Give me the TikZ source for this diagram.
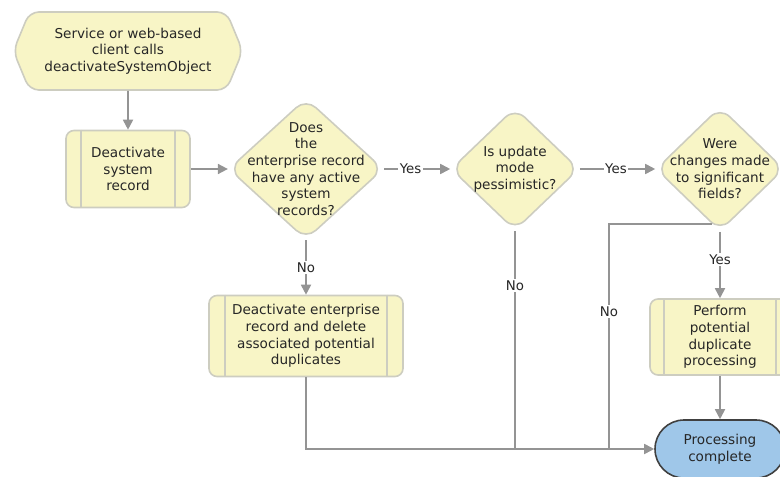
\documentclass[tikz,border=0pt]{standalone}
\usepackage{fontspec}
\setmainfont{DejaVu Sans}
\usetikzlibrary{shapes.geometric,shapes.symbols,shapes.misc,arrows.meta}
\definecolor{boxyellow}{HTML}{F8F5C6}
\definecolor{boxrim}{HTML}{CDCDC0}
\definecolor{linegray}{HTML}{949494}
\definecolor{doneblue}{HTML}{9FC7E9}
\tikzset{
  txt/.style={font=\fontsize{10.2}{12.5}\selectfont, align=center, text=black!85},
  procbox/.style={draw=boxrim, fill=boxyellow, line width=1.2pt, rounded corners=6pt, inner sep=0pt, txt},
  question/.style={draw=boxrim, fill=boxyellow, line width=1.2pt, diamond, rounded corners=10pt, inner sep=0pt},
  qlabel/.style={txt},
  flow/.style={draw=linegray, line width=1.3pt, -{Triangle[length=7.5pt,width=7.5pt]}},
  wire/.style={draw=linegray, line width=1.3pt},
  lbl/.style={fill=white, inner sep=1pt, text=black!85, font=\fontsize{10}{11}\selectfont},
}
\begin{document}
\begin{tikzpicture}[x=0.75pt, y=-0.75pt]
\useasboundingbox (0,0) rectangle (780,477);
\clip (0,0) rectangle (780,477);
\node[draw=boxrim, fill=boxyellow, line width=1.2pt, shape=signal, signal to=east and west, signal pointer angle=135, rounded corners=7pt, minimum width=172pt, minimum height=58.5pt, inner sep=0pt, txt] (start) at (128,51) {Service or web-based\\client calls\\deactivateSystemObject};
\node[procbox, minimum width=93pt, minimum height=57.75pt] (deact) at (128,169) {Deactivate\\system\\record};
\node[question, minimum width=116pt, minimum height=106pt, label={[qlabel]center:{Does\\the\\enterprise record\\have any active\\system\\records?}}] (q1) at (306,169) {};
\node[question, minimum width=96pt, minimum height=92pt, label={[qlabel]center:{Is update\\mode\\pessimistic?}}] (q2) at (515,169) {};
\node[question, minimum width=96pt, minimum height=93pt, label={[qlabel]center:{Were\\changes made\\to significant\\fields?}}] (q3) at (720,169) {};
\node[procbox, minimum width=145.5pt, minimum height=60.75pt] (delent) at (306,336) {Deactivate enterprise\\record and delete\\associated potential\\duplicates};
\node[procbox, minimum width=105pt, minimum height=57pt] (dup) at (720,337) {Perform\\potential\\duplicate\\processing};
\node[draw=black!75, fill=doneblue, line width=1.2pt, rounded rectangle, minimum width=97.5pt, minimum height=43.5pt, inner sep=0pt, txt] (done) at (720,449) {Processing\\complete};
% inner bars of the process boxes
\draw[boxrim, line width=1.2pt] ([xshift=12pt]deact.north west) -- ([xshift=12pt]deact.south west);
\draw[boxrim, line width=1.2pt] ([xshift=-12pt]deact.north east) -- ([xshift=-12pt]deact.south east);
\draw[boxrim, line width=1.2pt] ([xshift=12.75pt]delent.north west) -- ([xshift=12.75pt]delent.south west);
\draw[boxrim, line width=1.2pt] ([xshift=-12.75pt]delent.north east) -- ([xshift=-12.75pt]delent.south east);
\draw[boxrim, line width=1.2pt] ([xshift=11.25pt]dup.north west) -- ([xshift=11.25pt]dup.south west);
\draw[boxrim, line width=1.2pt] ([xshift=-11.25pt]dup.north east) -- ([xshift=-11.25pt]dup.south east);
% connectors
\coordinate (j2) at (q2.south |- done.west);
\coordinate (k3) at (609,224);
\coordinate (s3) at (712,224);
\coordinate (j3) at (k3 |- done.west);
\draw[flow] (start) -- (deact);
\draw[flow] (deact) -- (q1);
\draw[flow] (q1) -- node[lbl, pos=0.4] (y1) {Yes} (q2);
\draw[flow] (q2) -- node[lbl, pos=0.48] (y2) {Yes} (q3);
\draw[flow] (q1) -- node[lbl] (n1) {No} (delent);
\draw[flow] (q3) -- node[lbl, pos=0.42] (y3) {Yes} (dup);
\draw[flow] (dup) -- (done);
\draw[flow] (delent.south) |- (done.west);
\draw[wire] (q2.south) -- node[lbl, pos=0.25] (n2) {No} (j2);
\draw[wire] (s3) -- (k3) -- node[lbl, pos=0.39] (n3) {No} (j3);
\end{tikzpicture}
\end{document}
